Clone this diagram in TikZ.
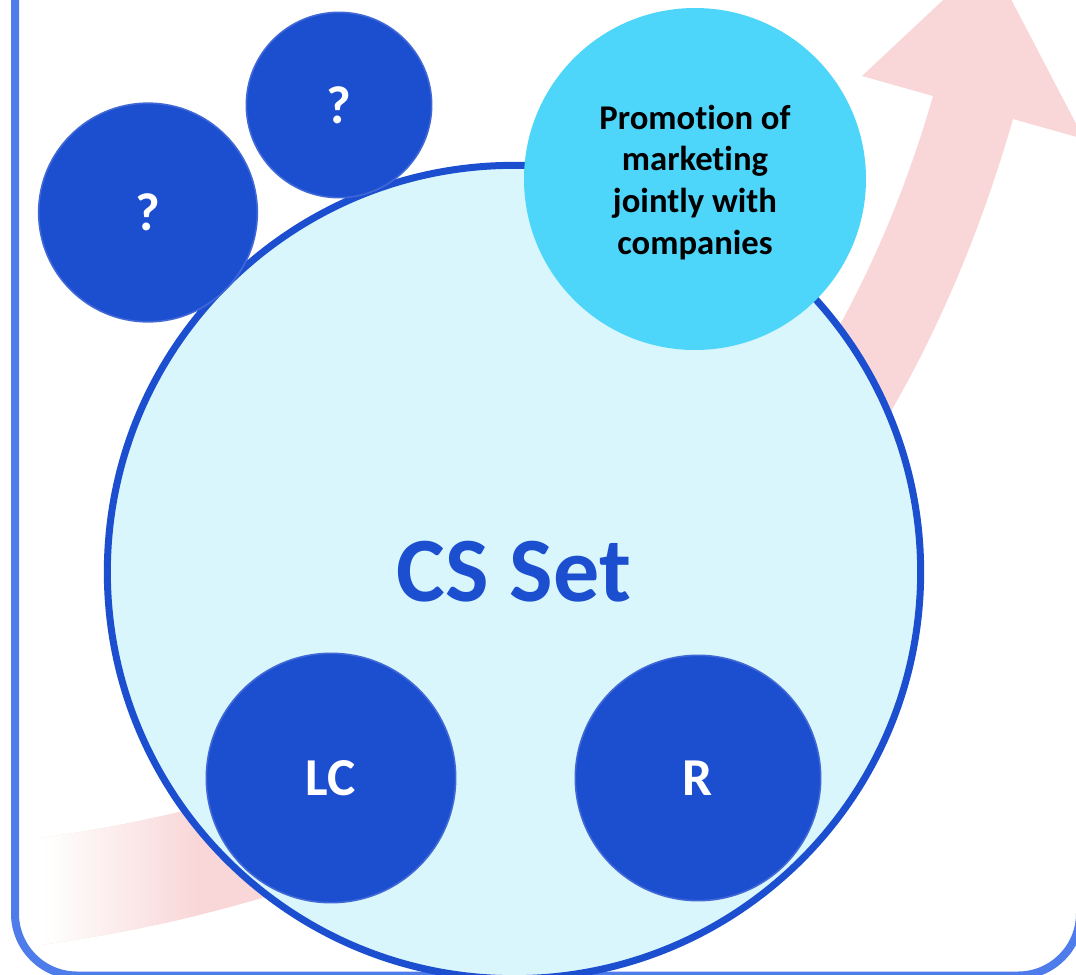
\documentclass[tikz,border=0pt]{standalone}
\usepackage{fontspec}
\setmainfont{Carlito}[Ligatures=NoCommon]
\definecolor{framecol}{HTML}{4F7CEB}
\definecolor{deepblue}{HTML}{1C4ED0}
\definecolor{rimblue}{HTML}{4068D6}
\definecolor{paleaqua}{HTML}{D9F6FC}
\definecolor{skyfill}{HTML}{4DD6FA}
\definecolor{blush}{HTML}{F9D6D7}
% outline of the rising arrow band
\newcommand\bandoutline{(40,945) .. controls (590,870) and (889,551) .. (1013,119)
  -- (1084,139) -- (989,-43) -- (862,76) -- (933,96)
  .. controls (822.6,480) and (540,769.5) .. (40,838) -- cycle}
\begin{document}
\begin{tikzpicture}[x=0.75pt,y=-0.75pt,
  dot/.style={circle, fill=deepblue, draw=rimblue, line width=1.2pt, inner sep=0pt,
    text=white, font=\bfseries\fontsize{40}{48}\selectfont},
  bigdisc/.style={circle, fill=paleaqua, draw=deepblue, line width=5.25pt, inner sep=0pt,
    text=deepblue, font=\bfseries\fontsize{69}{80}\selectfont},
  promo/.style={circle, fill=skyfill, inner sep=0pt},
  promotext/.style={align=center, inner sep=0pt, text=black,
    font=\bfseries\fontsize{26}{31.2}\selectfont}]
\useasboundingbox (0,0) rectangle (1076,975);
\clip (0,0) rectangle (1076,975);

% rising arrow band, fading in from the left
\begin{scope}
  \clip \bandoutline;
  \fill[blush] (0,-100) rectangle (1100,1000);
  \fill[white] (0,780) rectangle (45,970);
  \shade[left color=white, right color=blush] (44,780) rectangle (200,970);
\end{scope}

% outer frame
\draw[framecol, line width=6pt, rounded corners=46.5pt] (15,-200) rectangle (1080,975.5);

% main set and its members
\node[bigdisc, minimum size=610pt] (cs) at (514,572) {CS Set};
\node[promo, minimum size=256.5pt] (pm) at (695,179) {};
\node[promotext] (pmt) at ([yshift=-2.5pt]pm.center)
  {Promotion of\\marketing\\jointly with\\companies};
\node[dot, minimum size=164pt] (q1) at (148,212.5) {?};
\node[dot, minimum size=139pt] (q2) at (339,105) {?};
\node[dot, minimum size=187pt] (lc) at (331,778) {LC};
\node[dot, minimum size=184pt] (r) at (698,778) {R};
\end{tikzpicture}
\end{document}
